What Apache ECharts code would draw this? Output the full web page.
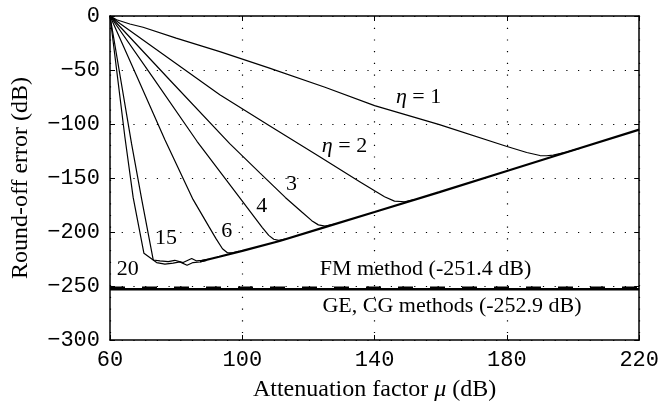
<!DOCTYPE html>
<html>
<head>
<meta charset="utf-8">
<script src="https://cdn.jsdelivr.net/npm/echarts@6/dist/echarts.min.js"></script>
<style>
  html, body { margin: 0; padding: 0; background: #fff; }
  #chart { width: 662px; height: 407px; }
</style>
</head>
<body>
<div id="chart"></div>
<script>
// axis ticks
const xTicks = [60, 100, 140, 180, 220];
const yTicks = [-300, -250, -200, -150, -100, -50, 0];

// round-off error curves, [mu (dB), error (dB)]
const eta1 = [[60, 0], [62, -3.5], [66, -7.4], [70, -10.4], [80, -20.5], [93.2, -33], [108, -48], [125, -66],
  [140, -83], [159.6, -100.6], [179.8, -120.6], [186, -126.4], [190, -129.2], [192, -129.4], [194, -128.8],
  [198, -126.1], [202, -122.5]];
const eta2 = [[60, 0], [63, -7], [72, -26.6], [93.2, -72.9], [108.1, -101.3], [123.4, -130.4], [135.5, -153.4],
  [140, -161.9], [143, -167.3], [146, -171.4], [149, -172], [152, -170.1]];
const eta3 = [[60, 0], [78, -59], [96.2, -118.2], [105.3, -145.2], [113, -168], [118, -181.5], [121, -189.5],
  [123, -193.4], [125, -194.5], [128, -192.6]];
const eta4 = [[60, 0], [73, -57], [86.3, -116], [100, -171.5], [104, -187.7], [106, -195.7], [108, -203.1],
  [109.5, -206.7], [111, -207.8], [113, -206.6]];
const eta6 = [[60, 0], [68, -55.2], [76.6, -114.5], [85.1, -169.8], [90, -195.5], [92, -205.9], [94, -215.5],
  [95.5, -219.2], [97, -219.4], [99, -218]];
const eta15 = [[60, 0], [66.5, -118], [69.6, -170], [73.07, -225.9], [75.1, -226.8], [77.6, -227.4],
  [79.6, -226.2], [82.1, -228.3], [84.7, -224.6], [86.2, -226.8], [87.7, -226.2], [90.2, -225]];
const eta20 = [[60, 0], [64.5, -112], [67, -168], [70.26, -219.7], [74.1, -228.3], [76.6, -229.8],
  [79.1, -228.9], [81.1, -227.7], [83.3, -230.8], [85.1, -228.3], [87.2, -227.8], [89.2, -226.3]];
// common rising part where all curves merge
const envelope = [[87.2, -227.3], [93, -222.9], [100, -217.5], [111.3, -208.3], [125, -195.5], [140, -181.5],
  [159.6, -163.1], [180, -143.5], [200, -124.3], [220, -105.2]];

// reference levels of the direct methods
const fmLevel = -251.4;
const geLevel = -252.9;

// curve labels
const labelText = ['{i|η} = 1', '{i|η} = 2', '3', '4', '6', '15', '20'];
const labelPos = [[153.3, -74.8], [130.9, -120.4], [114.9, -156], [105.9, -176.3], [95.3, -199.4],
  [76.9, -205.9], [65.4, -234.5]];
const methodText = ['FM method (-251.4 dB)', 'GE, CG methods (-252.9 dB)'];
const methodPos = [[155.4, -234.5], [163.4, -268.6]];

const chart = echarts.init(document.getElementById('chart'), null, { renderer: 'canvas' });

const serif = 'Liberation Serif';
const mono = 'Liberation Mono';

const curve = (data, width) => ({
  type: 'line',
  data,
  showSymbol: false,
  symbol: 'none',
  smooth: false,
  lineStyle: { color: '#000', width },
  z: 3,
});

const frameAxis = {
  axisLine: { show: true, onZero: false, lineStyle: { color: '#000', width: 1.5 } },
  axisTick: { show: true, inside: true, length: 5, lineStyle: { color: '#000', width: 1 } },
};

const gridDots = { show: true, lineStyle: { color: '#000', width: 1.2, type: [1.2, 10.5] } };

const textLabels = (pos, text, size) => ({
  type: 'scatter',
  symbolSize: 1,
  silent: true,
  z: 5,
  itemStyle: { color: 'rgba(0,0,0,0)', opacity: 1 },
  data: pos.map((p, i) => ({ value: p, label: { formatter: text[i] } })),
  label: {
    show: true,
    position: 'inside',
    color: '#000',
    opacity: 1,
    textBorderWidth: 0,
    fontFamily: serif,
    fontSize: size,
    rich: {
      i: { fontFamily: serif, fontSize: size, fontStyle: 'italic', color: '#000' },
    },
  },
});

const option = {
  animation: false,
  backgroundColor: '#fff',
  grid: { left: 110, right: 22, top: 16, bottom: 66 },
  xAxis: [
    {
      type: 'value', min: 60, max: 220, interval: 40, position: 'bottom',
      ...frameAxis,
      axisLabel: { fontFamily: mono, fontSize: 22, color: '#000', margin: 9 },
      splitLine: gridDots,
      name: '{t|Attenuation factor }{i|μ}{t| (dB)}',
      nameLocation: 'middle',
      nameGap: 38,
      nameTextStyle: {
        rich: {
          t: { fontFamily: serif, fontSize: 24, color: '#000' },
          i: { fontFamily: serif, fontSize: 24, color: '#000', fontStyle: 'italic' },
        },
      },
    },
    {
      type: 'value', min: 60, max: 220, interval: 40, position: 'top',
      ...frameAxis,
      axisLabel: { show: false },
      splitLine: { show: false },
    },
  ],
  yAxis: [
    {
      type: 'value', min: -300, max: 0, interval: 50, position: 'left',
      ...frameAxis,
      axisLabel: {
        fontFamily: mono, fontSize: 22, color: '#000', margin: 10,
        formatter: (v) => (v < 0 ? '\u2212' + Math.abs(v) : String(v)),
      },
      splitLine: gridDots,
      name: 'Round-off error (dB)',
      nameLocation: 'middle',
      nameGap: 77,
      nameTextStyle: { fontFamily: serif, fontSize: 24, color: '#000' },
    },
    {
      type: 'value', min: -300, max: 0, interval: 50, position: 'right',
      ...frameAxis,
      axisLabel: { show: false },
      splitLine: { show: false },
    },
  ],
  series: [
    curve(eta1, 1.2),
    curve(eta2, 1.2),
    curve(eta3, 1.2),
    curve(eta4, 1.2),
    curve(eta6, 1.2),
    curve(eta15, 1.2),
    curve(eta20, 1.2),
    curve(envelope, 2.2),
    {
      type: 'line',
      data: [[60, geLevel], [220, geLevel]],
      symbol: 'none',
      lineStyle: { color: '#000', width: 2.5 },
      z: 4,
    },
    {
      type: 'line',
      data: [[60, fmLevel], [220, fmLevel]],
      symbol: 'none',
      lineStyle: { color: '#000', width: 2, type: [15, 17] },
      z: 4,
    },
    textLabels(labelPos, labelText, 22),
    textLabels(methodPos, methodText, 22),
  ],
};

chart.setOption(option);
</script>
</body>
</html>
